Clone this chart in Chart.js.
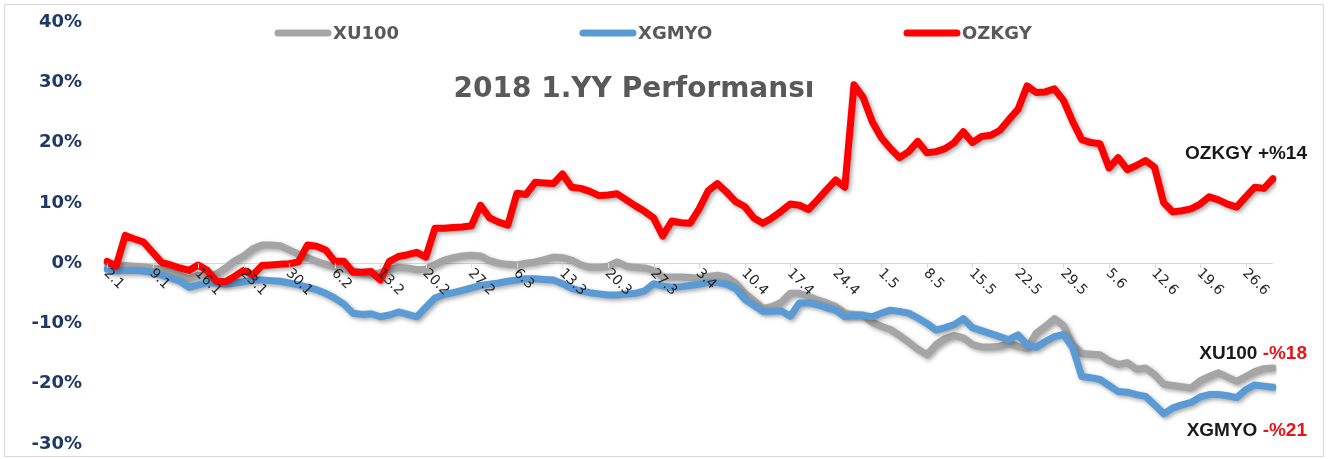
<!DOCTYPE html>
<html>
<head>
<meta charset="utf-8">
<script src="https://cdn.jsdelivr.net/npm/chart.js@4.4.0/dist/chart.umd.min.js"></script>
<style>
  html, body { margin: 0; padding: 0; background: #fff; }
  #wrap { position: relative; width: 1328px; height: 459px; }
</style>
</head>
<body>
<div id="wrap"><canvas id="myChart"></canvas></div>
<script>
// trading days, 1st half 2018
var days = [
  '2.1','3.1','4.1','5.1','8.1','9.1','10.1','11.1','12.1','15.1','16.1','17.1','18.1','19.1','22.1','23.1','24.1','25.1','26.1','29.1','30.1','31.1',
  '1.2','2.2','5.2','6.2','7.2','8.2','9.2','12.2','13.2','14.2','15.2','16.2','19.2','20.2','21.2','22.2','23.2','26.2','27.2','28.2',
  '1.3','2.3','5.3','6.3','7.3','8.3','9.3','12.3','13.3','14.3','15.3','16.3','19.3','20.3','21.3','22.3','23.3','26.3','27.3','28.3','29.3','30.3',
  '2.4','3.4','4.4','5.4','6.4','9.4','10.4','11.4','12.4','13.4','16.4','17.4','18.4','19.4','20.4','23.4','24.4','25.4','26.4','27.4','30.4',
  '1.5','2.5','3.5','4.5','7.5','8.5','9.5','10.5','11.5','14.5','15.5','16.5','17.5','18.5','21.5','22.5','23.5','24.5','25.5','28.5','29.5','30.5','31.5',
  '1.6','4.6','5.6','6.6','7.6','8.6','11.6','12.6','13.6','14.6','15.6','18.6','19.6','20.6','21.6','22.6','25.6','26.6','27.6','28.6','29.6'
];

var xu100 = [
  0, -0.5, -0.4, -0.5, -0.6, -0.8, -1.0, -1.4, -2.0, -2.6,
  -2.0, -2.2, -1.8, -0.8, 0.4, 1.2, 2.4, 3.0, 3.0, 2.9,
  2.2, 1.5, 0.9, 0.3, -0.2, -0.6, -1.0, -1.3, -1.6, -1.9,
  -1.6, -1.0, -0.7, -0.8, -1.1, -1.0, -0.2, 0.5, 0.9, 1.2,
  1.3, 1.2, 0.4, 0.0, -0.2, -0.3, 0.0, 0.2, 0.6, 1.0,
  0.9, 0.5, -0.3, -0.7, -0.7, -0.5, 0.2, -0.5, -0.7, -0.8,
  -1.2, -2.3, -2.3, -2.3, -2.4, -2.5, -2.2, -2.0, -2.3, -3.3,
  -5.0, -6.2, -7.5, -7.2, -6.5, -5.0, -5.0, -5.5, -6.1, -6.6,
  -7.2, -8.3, -8.5, -8.6, -9.8, -10.5, -11.0, -12.0, -13.1, -14.3,
  -15.2, -13.5, -12.5, -12.0, -12.4, -13.5, -13.9, -13.9, -13.8, -13.3,
  -13.8, -14.2, -11.6, -10.5, -9.2, -10.4, -13.5, -15.0, -15.1, -15.2,
  -16.2, -16.8, -16.5, -17.6, -17.4, -18.5, -20.1, -20.3, -20.5, -20.7,
  -19.5, -18.8, -18.2, -18.9, -19.6, -18.8, -18.0, -17.5, -17.4
];

var xgmyo = [
  -1.0, -1.3, -1.2, -1.2, -1.3, -1.5, -2.0, -2.5, -3.0, -4.0,
  -3.6, -3.3, -3.3, -3.5, -3.3, -3.1, -2.8, -2.8, -2.9, -3.0,
  -3.3, -3.6, -4.0, -4.4, -5.0, -5.8, -6.8, -8.3, -8.5, -8.4,
  -8.9, -8.6, -8.1, -8.5, -8.9, -7.3, -5.8, -5.2, -4.9, -4.5,
  -4.1, -3.7, -3.5, -3.3, -3.0, -2.8, -2.6, -2.6, -2.7, -2.8,
  -3.4, -4.2, -4.6, -4.9, -5.1, -5.3, -5.3, -5.1, -5.0, -4.6,
  -3.4, -3.8, -4.0, -3.9, -3.7, -3.5, -3.2, -3.2, -3.5, -4.2,
  -6.0, -7.0, -8.0, -8.0, -7.9, -8.8, -6.6, -6.6, -6.9, -7.4,
  -7.8, -8.9, -8.6, -8.7, -8.9, -8.3, -7.8, -8.0, -8.3, -9.1,
  -10.0, -11.1, -10.7, -10.2, -9.2, -10.7, -11.2, -11.7, -12.2, -12.7,
  -11.9, -13.5, -14.0, -13.0, -12.2, -11.8, -14.0, -18.8, -19.0, -19.3,
  -20.3, -21.3, -21.4, -21.8, -22.1, -23.5, -25.0, -24.0, -23.5, -23.1,
  -22.2, -21.8, -21.8, -22.0, -22.3, -21.0, -20.2, -20.4, -20.6
];

var ozkgy = [
  0.3, -0.5, 4.6, 4.0, 3.5, 1.8, 0.1, -0.3, -0.8, -1.2,
  -0.3, -1.2, -3.0, -3.1, -2.2, -1.2, -2.0, -0.4, -0.3, -0.2,
  -0.1, 0.2, 3.0, 2.8, 2.2, 0.3, 0.3, -1.5, -1.5, -1.4,
  -2.8, 0.3, 1.1, 1.4, 1.8, 1.0, 5.8, 5.8, 5.9, 6.0,
  6.2, 9.6, 7.5, 6.8, 6.3, 11.6, 11.4, 13.4, 13.3, 13.2,
  14.8, 12.6, 12.4, 11.9, 11.2, 11.3, 11.5, 10.5, 9.5, 8.6,
  7.5, 4.5, 7.0, 6.7, 6.6, 9.0, 12.0, 13.2, 11.8, 10.2,
  9.4, 7.5, 6.6, 7.5, 8.6, 9.8, 9.6, 8.9, 10.5, 12.2,
  13.8, 12.6, 29.6, 27.5, 23.5, 20.8, 19.0, 17.5, 18.5, 20.2,
  18.3, 18.5, 19.0, 20.0, 21.8, 20.0, 21.0, 21.2, 22.0, 23.8,
  25.5, 29.4, 28.3, 28.4, 28.9, 27.0, 23.5, 20.5, 20.0, 19.8,
  15.8, 17.5, 15.5, 16.2, 17.0, 15.9, 10.0, 8.5, 8.7, 9.0,
  9.8, 11.0, 10.5, 9.8, 9.3, 11.0, 12.6, 12.4, 14.0
];

var yTicks = [-30, -20, -10, 0, 10, 20, 30, 40];

// drop shadow under the lines, like the excel one
var shadowPlugin = {
  id: 'shadow',
  beforeDatasetsDraw: function(chart) {
    var c = chart.ctx;
    c.save();
    c.shadowColor = 'rgba(0,0,0,0.35)';
    c.shadowBlur = 4;
    c.shadowOffsetX = 2;
    c.shadowOffsetY = 2;
  },
  afterDatasetsDraw: function(chart) {
    chart.ctx.restore();
  }
};

// frame, title, legend, date labels and end notes
var extras = {
  id: 'extras',
  beforeDraw: function(chart) {
    var c = chart.ctx;
    c.save();
    c.fillStyle = '#fff';
    c.fillRect(0, 0, chart.width, chart.height);
    c.strokeStyle = '#D9D9D9';
    c.lineWidth = 1;
    c.strokeRect(4.5, 4.5, 1319, 452);
    c.restore();
  },
  afterDraw: function(chart) {
    var c = chart.ctx;
    var xs = chart.scales.x, ys = chart.scales.y;
    var y0 = ys.getPixelForValue(0);
    c.save();

    // x ticks + rotated labels, one per week
    c.strokeStyle = '#D9D9D9';
    c.lineWidth = 1;
    c.font = '14px "DejaVu Sans"';
    c.fillStyle = '#262626';
    c.textAlign = 'left';
    c.textBaseline = 'middle';
    for (var i = 0; i < days.length; i += 5) {
      var x = xs.getPixelForValue(i);
      c.beginPath();
      c.moveTo(Math.round(x) + 0.5, y0);
      c.lineTo(Math.round(x) + 0.5, y0 + 5);
      c.stroke();
      c.save();
      c.translate(x - 1, y0 + 8);
      c.rotate(Math.PI / 4);
      c.fillText(days[i], 0, 0);
      c.restore();
    }

    // title
    c.font = 'bold 28px "DejaVu Sans"';
    c.fillStyle = '#595959';
    c.textAlign = 'center';
    c.fillText('2018 1.YY Performansı', 634, 90);

    // legend
    var legX = [278, 583, 907];
    c.font = 'bold 18px "DejaVu Sans"';
    c.textAlign = 'left';
    chart.data.datasets.forEach(function(ds, k) {
      c.strokeStyle = ds.borderColor;
      c.lineWidth = 7;
      c.lineCap = 'round';
      c.beginPath();
      c.moveTo(legX[k], 33);
      c.lineTo(legX[k] + 50, 33);
      c.stroke();
      c.fillStyle = '#595959';
      c.fillText(ds.label, legX[k] + 55, 34);
    });

    // end notes
    c.font = 'bold 19px "Liberation Sans"';
    c.textAlign = 'right';
    c.fillStyle = '#1A1A1A';
    c.fillText('OZKGY +%14', 1307, 154);

    function note(name, pct, y) {
      var w = c.measureText(pct).width;
      c.fillStyle = '#E8161B';
      c.fillText(pct, 1307, y);
      c.fillStyle = '#1A1A1A';
      c.fillText(name + ' ', 1307 - w, y);
    }
    note('XU100', '-%18', 354);
    note('XGMYO', '-%21', 431);
    c.restore();
  }
};

var ctx = document.getElementById('myChart').getContext('2d');
var chart = new Chart(ctx, {
  type: 'line',
  data: {
    labels: days,
    datasets: [{
      label: 'XU100',
      data: xu100,
      borderColor: '#A5A5A5',
      order: 3
    }, {
      label: 'XGMYO',
      data: xgmyo,
      borderColor: '#5B9BD5',
      order: 2
    }, {
      label: 'OZKGY',
      data: ozkgy,
      borderColor: '#FF0000',
      order: 1
    }]
  },
  options: {
    responsive: true,
    maintainAspectRatio: false,
    animation: false,
    layout: {
      padding: { left: 0, right: 55, top: 22, bottom: 15 }
    },
    elements: {
      line: {
        borderWidth: 7,
        tension: 0,
        borderJoinStyle: 'round',
        borderCapStyle: 'round',
        fill: false
      },
      point: { radius: 0, hoverRadius: 0 }
    },
    plugins: {
      legend: { display: false },
      tooltip: { enabled: false }
    },
    scales: {
      x: {
        type: 'category',
        display: false,
        offset: false
      },
      y: {
        min: -30,
        max: 40,
        afterBuildTicks: function(scale) {
          scale.ticks = yTicks.map(function(v) { return { value: v }; });
        },
        afterFit: function(scale) {
          scale.width = 107;
          scale.paddingTop = 0;
          scale.paddingBottom = 0;
        },
        ticks: {
          padding: 25,
          color: '#1F3864',
          font: { family: 'DejaVu Sans', size: 18, weight: 'bold' },
          callback: function(v) { return v + '%'; }
        },
        grid: {
          drawTicks: false,
          color: function(c) { return c.tick && c.tick.value === 0 ? '#D9D9D9' : 'rgba(0,0,0,0)'; }
        },
        border: { display: false }
      }
    }
  },
  plugins: [shadowPlugin, extras]
});
</script>
</body>
</html>
